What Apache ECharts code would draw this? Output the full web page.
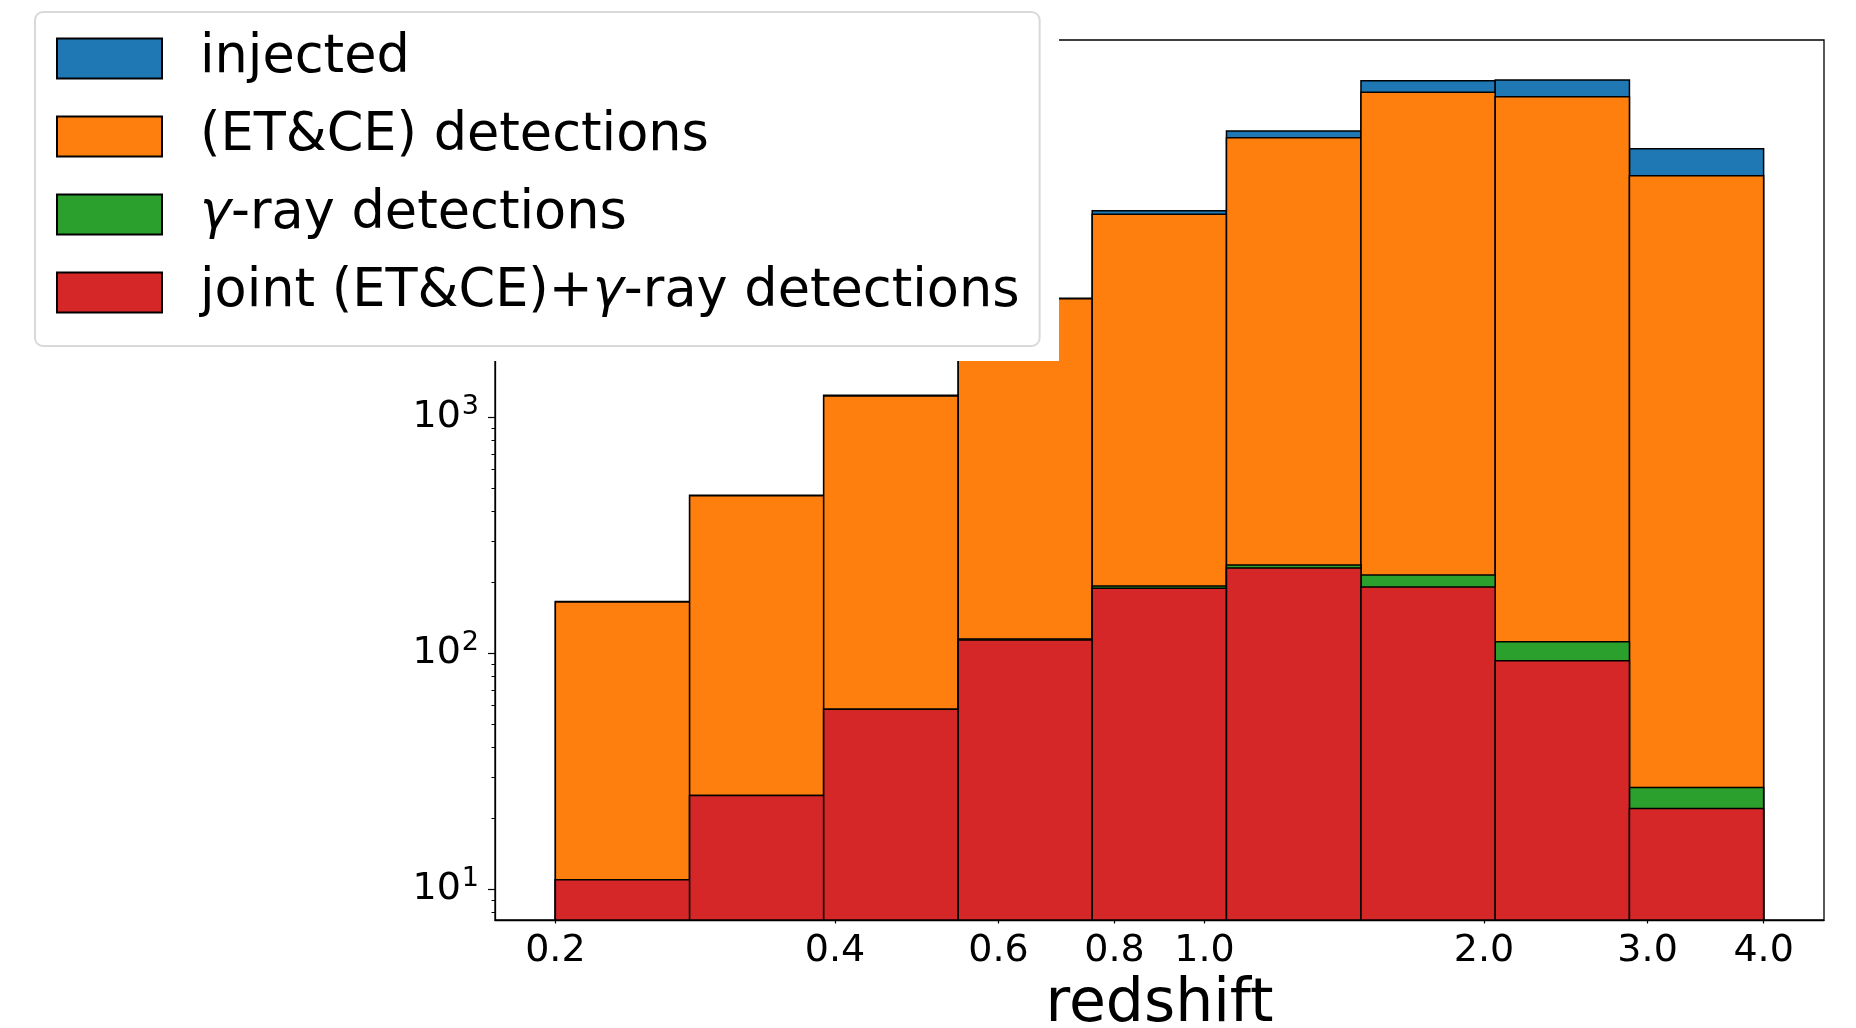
<!DOCTYPE html>
<html>
<head>
<meta charset="utf-8">
<title>Redshift histogram</title>
<script src="https://cdn.jsdelivr.net/npm/echarts@6/dist/echarts.min.js"></script>
<style>
  html, body { margin: 0; padding: 0; background: #fff; }
  #chart { width: 1856px; height: 1028px; }
</style>
</head>
<body>
<div id="chart"></div>
<script>
// Redshift bin edges (log-spaced, 9 bins from 0.2 to 4.0)
const binEdges = [0.2, 0.279, 0.389, 0.543, 0.757, 1.056, 1.474, 2.056, 2.868, 4.0];

// Counts per bin
const injected   = [166, 468, 1240, 3200, 7500, 16330, 26680, 26850, 13730];
const etceDet    = [165, 466, 1233, 3184, 7261, 15280, 23820, 22800, 10550];
const gammaDet   = [11, 25, 58, 115, 193, 237, 215, 112, 27];
const jointDet   = [11, 25, 58, 114, 189, 230, 191, 93, 22];

// Tick positions
const xTicks = [0.2, 0.4, 0.6, 0.8, 1.0, 2.0, 3.0, 4.0];
const yMajorTicks = [10, 100, 1000, 10000];
const yLabelTicks = [10, 100, 1000];
const yMinorTicks = [8, 9, 20, 30, 40, 50, 60, 70, 80, 90,
                     200, 300, 400, 500, 600, 700, 800, 900,
                     2000, 3000, 4000, 5000, 6000, 7000, 8000, 9000, 20000, 30000];

const seriesNames = ['injected', '(ET&CE) detections', 'γ-ray detections', 'joint (ET&CE)+γ-ray detections'];
const seriesColors = ['#1f77b4', '#ff7f0e', '#2ca02c', '#d62728'];
const seriesValues = [injected, etceDet, gammaDet, jointDet];

const X_MIN = 0.1722, X_MAX = 4.646;
const Y_MIN = 7.42, Y_MAX = 39700;
const FONT = 'DejaVu Sans';

function binData(values) {
  return values.map((v, i) => [binEdges[i], binEdges[i + 1], v]);
}

function renderBar(params, api) {
  const top = api.coord([api.value(0), api.value(2)]);
  const bottom = api.coord([api.value(1), Y_MIN]);
  return {
    type: 'rect',
    shape: { x: top[0], y: top[1], width: bottom[0] - top[0], height: bottom[1] - top[1] },
    style: { fill: api.visual('color'), stroke: '#000', lineWidth: 1.5 }
  };
}

const series = seriesNames.map((name, k) => ({
  name: name,
  type: 'custom',
  renderItem: renderBar,
  encode: { x: [0, 1], y: 2 },
  itemStyle: { color: seriesColors[k] },
  data: binData(seriesValues[k]),
  z: 2 + k * 0.01,
  animation: false
}));

const chart = echarts.init(document.getElementById('chart'), null, { renderer: 'canvas' });

chart.setOption({
  backgroundColor: '#ffffff',
  animation: false,
  grid: {
    left: 495, right: 32, top: 40, bottom: 108,
    containLabel: false, outerBoundsMode: 'none',
    show: true, borderColor: '#000', borderWidth: 1.3, backgroundColor: 'transparent'
  },
  xAxis: {
    type: 'log', logBase: 10, min: X_MIN, max: X_MAX,
    axisLine: { show: true, lineStyle: { color: '#000', width: 1.3 } },
    axisTick: { show: true, customValues: xTicks, length: 3.5, lineStyle: { color: '#000', width: 1.2 } },
    axisLabel: {
      customValues: xTicks, margin: 12,
      formatter: v => Number(v).toFixed(1),
      fontFamily: FONT, fontSize: 38, color: '#000'
    },
    splitLine: { show: false },
    minorTick: { show: false },
    name: 'redshift', nameLocation: 'middle', nameGap: 55,
    nameTextStyle: { fontFamily: FONT, fontSize: 60, color: '#000' }
  },
  yAxis: [
    {
      type: 'log', logBase: 10, min: Y_MIN, max: Y_MAX,
      axisLine: { show: true, lineStyle: { color: '#000', width: 1.3 } },
      axisTick: { show: true, customValues: yMajorTicks, length: 7, lineStyle: { color: '#000', width: 1.2 } },
      axisLabel: {
        customValues: yLabelTicks, margin: 16,
        formatter: v => '{b|10}{s|' + Math.round(Math.log10(v)) + '}',
        rich: {
          b: { fontFamily: FONT, fontSize: 38, color: '#000', lineHeight: 38 },
          s: { fontFamily: FONT, fontSize: 27, color: '#000', padding: [0, 0, 20, 1] }
        }
      },
      splitLine: { show: false }
    },
    {
      type: 'log', logBase: 10, min: Y_MIN, max: Y_MAX, position: 'left',
      axisLine: { show: false },
      axisTick: { show: true, customValues: yMinorTicks, length: 3.5, lineStyle: { color: '#000', width: 1 } },
      axisLabel: { show: false },
      splitLine: { show: false }
    }
  ],
  legend: {
    orient: 'vertical',
    left: 35, top: 12,
    padding: [20, 20, 27, 21],
    backgroundColor: '#ffffff',
    borderColor: '#d9d9d9', borderWidth: 2, borderRadius: 8,
    itemWidth: 105, itemHeight: 40, itemGap: 25,
    icon: 'rect',
    itemStyle: { borderColor: '#000', borderWidth: 2 },
    data: seriesNames,
    formatter: name => name.replace('γ', '{g|γ}'),
    textStyle: {
      fontFamily: FONT, fontSize: 52.5, color: '#000', lineHeight: 40,
      padding: [0, 0, 0, 33],
      rich: {
        g: { fontFamily: FONT, fontStyle: 'italic', fontSize: 52.5, color: '#000', lineHeight: 40 }
      }
    },
    selectedMode: false,
    z: 10
  },
  graphic: {
    elements: [
      {
        type: 'rect', z: 5, silent: true,
        shape: { x: 0, y: 0, width: 1059, height: 361 },
        style: { fill: '#ffffff' }
      }
    ]
  },
  series: series
});
</script>
</body>
</html>
